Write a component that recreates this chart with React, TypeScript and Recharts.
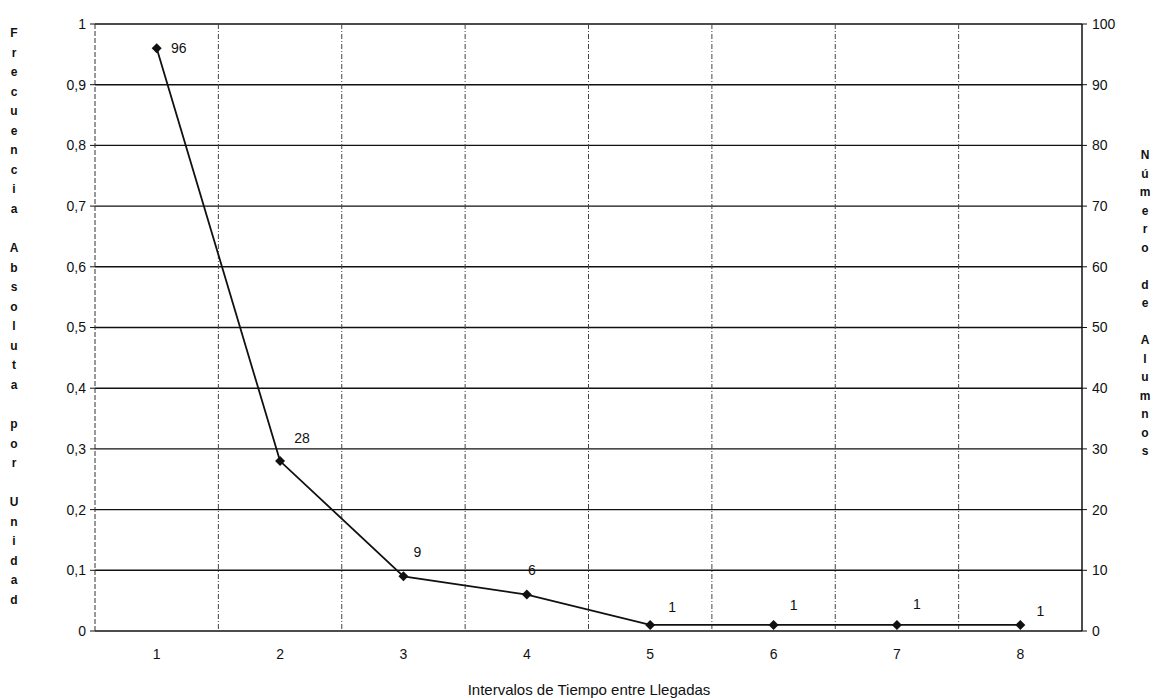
import { LineChart, Line, XAxis, YAxis, CartesianGrid, LabelList } from "recharts";

// intervalos de tiempo entre llegadas
const intervalos = ["1", "2", "3", "4", "5", "6", "7", "8"];
// número de alumnos por intervalo
const alumnos = [96, 28, 9, 6, 1, 1, 1, 1];

const leftTicks = [0, 0.1, 0.2, 0.3, 0.4, 0.5, 0.6, 0.7, 0.8, 0.9, 1];
const rightTicks = [0, 10, 20, 30, 40, 50, 60, 70, 80, 90, 100];

const leftTitle = "Frecuencia Absoluta por Unidad";
const rightTitle = "Número de Alumnos";
const xTitle = "Intervalos de Tiempo entre Llegadas";

const data = intervalos.map((interval, i) => ({ interval, alumnos: alumnos[i] }));

// label offsets next to each point
const labelOffsets = [
  [22, 0],
  [22, -23],
  [14, -24],
  [5, -25],
  [22, -18],
  [20, -20],
  [20, -21],
  [20, -14],
];

const FONT = "'Liberation Sans', Arial, sans-serif";

const Diamond = (props: any) => {
  const { cx, cy } = props;
  if (cx == null || cy == null) return null;
  const s = 5;
  return (
    <polygon
      points={`${cx},${cy - s} ${cx + s},${cy} ${cx},${cy + s} ${cx - s},${cy}`}
      fill="#111"
    />
  );
};

const PointLabel = (props: any) => {
  const { x, y, value, index } = props;
  const [dx, dy] = labelOffsets[index] || [18, -20];
  return (
    <text
      x={x + dx}
      y={y + dy}
      textAnchor="middle"
      dominantBaseline="central"
      fontSize={14}
      fontFamily={FONT}
      fill="#111"
    >
      {value}
    </text>
  );
};

const App = () => {
  const width = 1160;
  const height = 698;

  return (
    <div style={{ position: "absolute", left: 0, top: 0, width, height, background: "#fff" }}>
      <LineChart
        width={width}
        height={height}
        data={data}
        margin={{ top: 24, right: 28, bottom: 37, left: 35 }}
      >
        <CartesianGrid
          yAxisId="left"
          vertical={false}
          stroke="#111"
          strokeWidth={1.4}
        />
        <CartesianGrid
          yAxisId="left"
          horizontal={false}
          stroke="#444"
          strokeDasharray="5 2 1 2"
          verticalCoordinatesGenerator={({ offset }: any) =>
            intervalos.slice(1).map((_, k) => offset.left + (offset.width * (k + 1)) / intervalos.length)
          }
        />
        <XAxis
          dataKey="interval"
          scale="band"
          axisLine={false}
          tickLine={false}
          tickSize={0}
          tickMargin={18}
          tick={{ fontSize: 14, fontFamily: FONT, fill: "#111" }}
          height={30}
        />
        <YAxis
          yAxisId="left"
          orientation="left"
          domain={[0, 1]}
          ticks={leftTicks}
          allowDataOverflow
          width={60}
          tickSize={5}
          tickMargin={4}
          axisLine={{ stroke: "#333", strokeDasharray: "5 2" }}
          tickLine={{ stroke: "#111" }}
          tick={{ fontSize: 14, fontFamily: FONT, fill: "#111" }}
          tickFormatter={(v: number) => String(v).replace(".", ",")}
        />
        <YAxis
          yAxisId="right"
          orientation="right"
          domain={[0, 100]}
          ticks={rightTicks}
          width={50}
          tickSize={5}
          tickMargin={5}
          axisLine={{ stroke: "#111", strokeWidth: 1.5 }}
          tickLine={{ stroke: "#111" }}
          tick={{ fontSize: 14, fontFamily: FONT, fill: "#111", textAnchor: "start" }}
        />
        <Line
          yAxisId="right"
          type="linear"
          dataKey="alumnos"
          stroke="#111"
          strokeWidth={1.8}
          dot={<Diamond />}
          activeDot={false}
          isAnimationActive={false}
        >
          <LabelList dataKey="alumnos" content={<PointLabel />} />
        </Line>
      </LineChart>

      <svg
        width={width}
        height={height}
        style={{ position: "absolute", left: 0, top: 0, pointerEvents: "none" }}
      >
        {leftTitle.split("").map((ch, i) => (
          <text
            key={`l-${i}`}
            x={14}
            y={33 + i * 19.55}
            textAnchor="middle"
            dominantBaseline="central"
            fontSize={12}
            fontWeight="bold"
            fontFamily={FONT}
            fill="#111"
          >
            {ch}
          </text>
        ))}
        {rightTitle.split("").map((ch, i) => (
          <text
            key={`r-${i}`}
            x={1145}
            y={155 + i * 18.5}
            textAnchor="middle"
            dominantBaseline="central"
            fontSize={12}
            fontWeight="bold"
            fontFamily={FONT}
            fill="#111"
          >
            {ch}
          </text>
        ))}
        <text
          x={589}
          y={689}
          textAnchor="middle"
          dominantBaseline="central"
          fontSize={15}
          fontFamily={FONT}
          fill="#111"
        >
          {xTitle}
        </text>
      </svg>
    </div>
  );
};

export default App;
